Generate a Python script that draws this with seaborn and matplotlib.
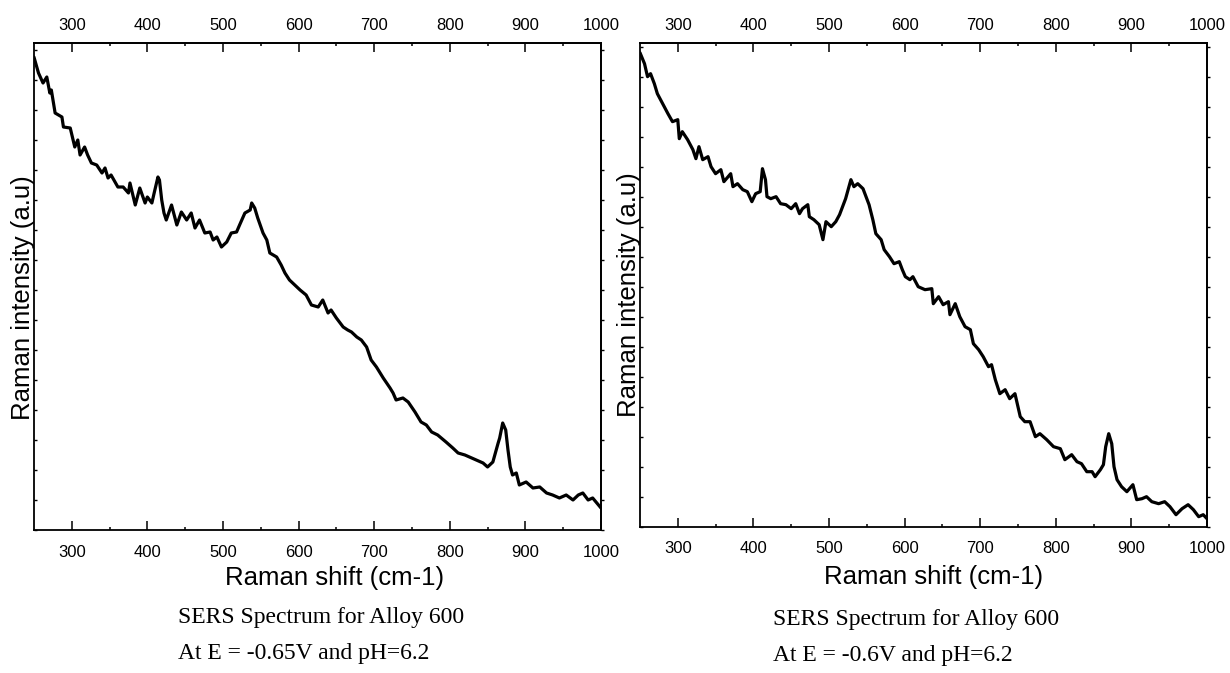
import numpy as np
import matplotlib
matplotlib.use("Agg")
import matplotlib.pyplot as plt
from matplotlib.ticker import MultipleLocator, FixedLocator, NullFormatter
import seaborn as sns

# Raman shift (cm-1) and intensity (a.u.)
shift_065 = [250, 256, 262, 267, 271, 273, 278, 287, 289, 298, 304, 308, 311, 317, 321,
             326, 333, 340, 344, 348, 352, 361, 368, 375, 377, 384, 390, 397, 400, 406,
             409, 414, 416, 419, 422, 425, 432, 439, 445, 452, 458, 463, 469, 476, 483,
             487, 492, 498, 505, 511, 518, 522, 529, 536, 538, 542, 546, 553, 558, 562,
             571, 577, 582, 588, 602, 610, 617, 626, 632, 639, 643, 650, 659, 665, 670,
             677, 683, 690, 696, 703, 712, 721, 725, 729, 738, 745, 754, 762, 769, 776,
             784, 795, 804, 811, 820, 829, 835, 844, 850, 857, 864, 866, 870, 874, 877,
             880, 883, 888, 892, 901, 910, 919, 928, 936, 945, 954, 963, 970, 976, 983,
             989, 1000]
int_065 = [473, 457, 447, 453, 437, 440, 417, 413, 403, 402, 383, 390, 375, 383, 375,
           367, 365, 357, 362, 352, 355, 343, 343, 337, 347, 325, 342, 327, 333, 327,
           337, 353, 350, 330, 317, 310, 325, 305, 318, 310, 317, 302, 310, 297, 298,
           290, 293, 283, 288, 297, 298, 305, 317, 320, 327, 322, 312, 297, 290, 277,
           273, 265, 257, 250, 240, 235, 225, 223, 230, 217, 220, 212, 203, 200, 198,
           193, 190, 183, 170, 163, 152, 142, 137, 130, 132, 128, 118, 108, 105, 98,
           95, 88, 82, 77, 75, 72, 70, 67, 63, 68, 87, 92, 107, 100, 80,
           63, 55, 57, 45, 48, 42, 43, 37, 35, 32, 35, 30, 35, 37, 30,
           32, 22]

shift_060 = [250, 256, 260, 264, 269, 273, 280, 287, 293, 300, 302, 306, 313, 320, 324,
             328, 333, 340, 344, 350, 357, 361, 370, 373, 379, 386, 392, 398, 403, 409,
             412, 416, 418, 423, 430, 436, 443, 450, 456, 461, 465, 472, 474, 480, 487,
             492, 496, 503, 509, 514, 518, 522, 529, 533, 538, 545, 549, 553, 558, 562,
             569, 573, 580, 586, 593, 597, 601, 607, 611, 618, 627, 636, 638, 645, 651,
             658, 660, 667, 673, 680, 687, 691, 698, 704, 711, 715, 720, 726, 733, 739,
             746, 753, 759, 766, 773, 779, 788, 797, 806, 812, 821, 828, 834, 841, 848,
             852, 859, 863, 866, 870, 874, 877, 881, 887, 894, 902, 907, 914, 920, 927,
             936, 944, 951, 959, 967, 975, 982, 989, 995, 1000]
int_060 = [474, 463, 450, 453, 443, 433, 423, 413, 405, 407, 388, 395, 387, 377, 368,
           380, 367, 370, 360, 353, 357, 345, 353, 340, 343, 337, 335, 325, 333, 335,
           358, 347, 330, 328, 330, 323, 322, 318, 323, 313, 318, 322, 310, 307, 302,
           287, 305, 300, 305, 312, 320, 328, 347, 340, 343, 338, 330, 322, 307, 293,
           287, 277, 270, 263, 265, 257, 250, 247, 250, 240, 237, 238, 223, 230, 222,
           225, 212, 223, 210, 200, 197, 183, 177, 170, 160, 162, 147, 133, 137, 128,
           133, 110, 105, 105, 90, 93, 87, 80, 78, 67, 72, 65, 63, 55, 55,
           50, 57, 62, 80, 93, 83, 60, 47, 40, 35, 42, 27, 28, 30, 25,
           23, 25, 20, 12, 18, 22, 17, 10, 12, 8]

shift_ticks = [300, 400, 500, 600, 700, 800, 900, 1000]
shift_minor = [350, 450, 550, 650, 750, 850, 950]

captions = [["SERS Spectrum for Alloy 600", "At E = -0.65V and pH=6.2"],
            ["SERS Spectrum for Alloy 600", "At E = -0.6V and pH=6.2"]]

sns.set_theme(style="ticks")
plt.rcParams["font.family"] = ["Liberation Sans", "DejaVu Sans"]
plt.rcParams.update({"text.color": "black", "axes.labelcolor": "black",
                     "xtick.color": "black", "ytick.color": "black",
                     "axes.edgecolor": "black"})

fig = plt.figure(figsize=(12.3, 6.73), dpi=100)

# axes boxes in figure fractions: left, bottom, width, height
boxes = [[0.0276, 0.2125, 0.461, 0.7236], [0.5203, 0.2174, 0.461, 0.7192]]
ymax = [487, 484]
xlab_x = [0.531, 0.518]
xlab_y = [-0.074, -0.079]
ylab_y = [0.477, 0.479]
cap_x = [178 / 1230, 773 / 1230]
cap_y1 = [1 - 623.3 / 673, 1 - 624.5 / 673]
cap_y2 = [1 - 658.5 / 673, 1 - 661 / 673]

series = [(shift_065, int_065), (shift_060, int_060)]

for i, (xs, ys) in enumerate(series):
    ax = fig.add_axes(boxes[i])
    sns.lineplot(x=xs, y=ys, color="black", linewidth=2.3, sort=False, ax=ax)
    ax.set_xlim(250, 1000)
    ax.set_ylim(0, ymax[i])

    for sp in ax.spines.values():
        sp.set_linewidth(1.3)
        sp.set_color("black")

    ax.xaxis.set_major_locator(FixedLocator(shift_ticks))
    ax.xaxis.set_minor_locator(FixedLocator(shift_minor))
    ax.yaxis.set_major_locator(MultipleLocator(30))
    ax.yaxis.set_major_formatter(NullFormatter())

    ax.tick_params(axis="x", which="major", direction="in", length=6.5, width=1.1,
                   labelsize=12, pad=10.5)
    ax.tick_params(axis="x", which="minor", direction="in", length=2.5, width=1.1)
    ax.tick_params(axis="y", which="major", direction="in", length=2, width=1,
                   left=True, right=False)

    # top axis repeating the shift scale
    top = ax.secondary_xaxis("top")
    top.xaxis.set_major_locator(FixedLocator(shift_ticks))
    top.xaxis.set_minor_locator(FixedLocator(shift_minor))
    top.tick_params(axis="x", which="major", direction="in", length=6.5, width=1.1,
                    labelsize=12, pad=7)
    top.tick_params(axis="x", which="minor", direction="in", length=2.5, width=1.1)
    top.spines["top"].set_linewidth(1.3)

    # small outward ticks on the right frame
    right = ax.secondary_yaxis("right")
    right.yaxis.set_major_locator(FixedLocator(list(range(0, ymax[i] + 1, 30))))
    right.yaxis.set_major_formatter(NullFormatter())
    right.tick_params(axis="y", direction="out", length=2, width=1)
    right.spines["right"].set_linewidth(1.3)

    ax.set_xlabel("Raman shift (cm-1)", fontsize=18.5)
    ax.xaxis.set_label_coords(xlab_x[i], xlab_y[i])
    ax.set_ylabel("Raman intensity (a.u)", fontsize=18.5)
    ax.yaxis.set_label_coords(0.002, ylab_y[i])

    fig.text(cap_x[i], cap_y1[i], captions[i][0], fontsize=17,
             family=["Liberation Serif", "DejaVu Serif"], va="baseline", ha="left")
    fig.text(cap_x[i], cap_y2[i], captions[i][1], fontsize=17,
             family=["Liberation Serif", "DejaVu Serif"], va="baseline", ha="left")

fig.savefig("out.png", dpi=100)
plt.close(fig)
